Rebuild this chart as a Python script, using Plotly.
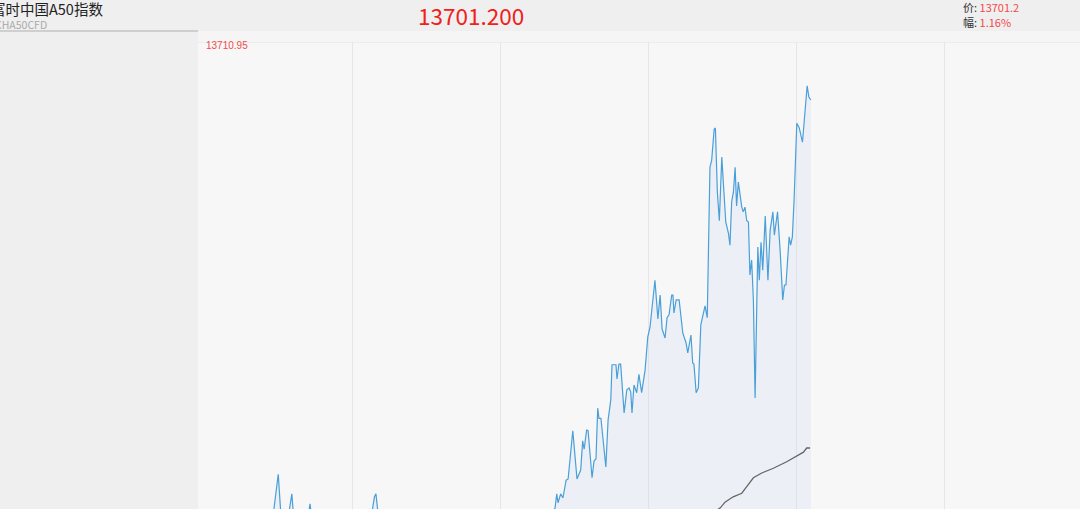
import plotly.graph_objects as go

# ---- data (minutes since session start, price) ----
price_minutes = [0.0, 10.5, 20.7, 28.0, 30.1, 31.2, 34.1, 35.6, 36.5, 38.9, 42.2, 43.0, 43.8, 49.1, 57.2, 63.2,
                 68.1, 69.1, 69.7, 70.5, 75.4, 87.6, 99.7, 111.9, 124.1, 134.2, 139.5, 142.3,
                 143.0, 143.5, 144.6, 145.5, 146.8, 147.6, 149.5, 151.2, 152.7, 153.5, 154.1, 155.1, 155.7,
                 157.3, 158.1, 158.9, 159.6, 160.1, 160.9, 162.9, 163.8, 164.9, 165.4, 167.0, 167.4, 168.2,
                 168.9, 170.3, 171.4, 172.3, 173.0, 173.5, 174.3, 175.4, 176.3, 177.4, 178.8, 179.9, 180.8,
                 182.8, 184.0, 184.9, 185.7, 186.9, 187.7, 188.5, 189.6, 190.1, 190.5, 191.4, 192.6, 194.1,
                 195.4, 196.1, 197.4, 198.1, 198.6, 199.5, 200.4, 201.4, 203.1, 204.0, 205.1, 205.8, 206.8,
                 207.3, 208.1, 208.9, 209.9, 211.5, 212.6, 213.2, 213.9, 214.6, 215.3, 215.9, 216.6, 218.0,
                 218.6, 219.3, 220.0, 220.7, 221.3, 222.0, 222.7, 223.4, 224.5, 225.1, 225.8, 226.5, 227.5,
                 228.6, 229.5, 230.6, 231.2, 232.5, 233.6, 234.6, 235.3, 235.9, 237.2, 237.8, 238.5, 239.2,
                 240.3, 241.3, 242.6, 244.1, 244.5, 245.2, 246.0]
price_values = [13628.1, 13629.3, 13627.2, 13631.3, 13638.3, 13631.3, 13630.9, 13635.0, 13630.3, 13628.9,
                13631.3, 13633.3, 13630.3, 13628.1, 13626.4, 13627.6, 13631.9, 13634.5, 13635.0, 13631.9,
                13628.9, 13626.4, 13625.2, 13625.9, 13626.9, 13628.9, 13630.9, 13632.6,
                13635.0, 13633.5, 13635.0, 13634.3, 13637.3, 13637.5, 13645.6, 13637.5, 13639.0, 13643.9,
                13642.5, 13645.7, 13645.6, 13637.7, 13640.5, 13640.9, 13649.4, 13647.7, 13647.7, 13639.5,
                13647.4, 13650.8, 13656.7, 13656.7, 13654.3, 13656.8, 13656.8, 13648.6, 13652.5, 13652.8,
                13652.1, 13648.6, 13653.3, 13652.0, 13655.1, 13652.0, 13655.8, 13661.4, 13663.0, 13670.9,
                13664.4, 13668.4, 13662.7, 13661.2, 13664.6, 13665.1, 13668.4, 13668.4, 13665.4, 13667.6,
                13667.6, 13662.0, 13660.4, 13658.7, 13661.7, 13657.0, 13656.8, 13652.0, 13652.8, 13663.4,
                13666.6, 13664.6, 13689.9, 13691.1, 13696.3, 13696.5, 13685.7, 13680.9, 13691.6, 13680.7,
                13678.8, 13676.8, 13684.1, 13685.7, 13689.9, 13683.4, 13687.4, 13683.2, 13682.4, 13683.2,
                13680.9, 13680.7, 13671.8, 13674.3, 13667.6, 13651.1, 13676.5, 13670.9, 13677.3, 13672.6,
                13681.7, 13670.9, 13679.3, 13682.4, 13678.5, 13682.4, 13675.5, 13667.6, 13670.1, 13670.1,
                13678.2, 13676.8, 13678.2, 13684.4, 13697.3, 13696.5, 13694.1, 13702.0, 13703.6, 13701.7,
                13701.2]

avg_minutes = [0.0, 79.5, 160.5, 201.1, 209.2, 211.2, 214.5, 218.0, 220.0, 222.7, 226.1, 230.8, 236.2,
               239.6, 243.0, 244.3, 245.7]
avg_values = [13613.8, 13623.9, 13627.2, 13630.6, 13632.6, 13633.6, 13634.5, 13635.1, 13636.2, 13637.7,
              13638.5, 13639.3, 13640.4, 13641.2, 13642.0, 13642.7, 13642.7]

grid_minutes = [60, 120, 180, 240, 300]
y_max_label = "13710.95"
y_top = 13710.95
y_bottom = 13632.45
x_range = [-2.43, 355.1]

title_text = "富时中国A50指数"
code_text = "CHA50CFD"
last_price_text = "13701.200"
price_label = "13701.2"
change_label = "1.16%"

W, H = 1080, 509
L, T = 198, 42
PW, PH = W - L, H - T


def px(xp):
    return (xp - L) / PW


def py(yp):
    return (H - yp) / PH


fig = go.Figure()
fig.add_trace(go.Scatter(
    x=price_minutes, y=price_values, mode="lines",
    line=dict(color="#4a9fd8", width=1.2),
    fill="tozeroy", fillcolor="rgba(200,220,245,0.22)",
    hoverinfo="skip", showlegend=False))
fig.add_trace(go.Scatter(
    x=avg_minutes, y=avg_values, mode="lines",
    line=dict(color="#666666", width=1.3),
    hoverinfo="skip", showlegend=False))

shapes = [
    dict(type="rect", xref="paper", yref="paper", x0=px(L), x1=px(W), y0=py(T), y1=py(31),
         fillcolor="#f5f5f5", line=dict(width=0), layer="below"),
    dict(type="line", xref="paper", yref="paper", x0=px(0), x1=px(L), y0=py(31), y1=py(31),
         line=dict(color="#c4c4c4", width=1.5)),
    dict(type="line", xref="paper", yref="paper", x0=px(L), x1=px(W), y0=py(42.5), y1=py(42.5),
         line=dict(color="#ececec", width=1)),
]

annotations = [
    dict(text=title_text, x=px(-11), y=py(9), xref="paper", yref="paper", xanchor="left", yanchor="middle",
         showarrow=False, font=dict(family="Noto Sans CJK SC", size=14.5, color="#222222")),
    dict(text=code_text, x=px(-7), y=py(24.5), xref="paper", yref="paper", xanchor="left", yanchor="middle",
         showarrow=False, font=dict(family="Noto Sans CJK SC", size=10.5, color="#aaaaaa")),
    dict(text=last_price_text, x=px(471), y=py(15), xref="paper", yref="paper", xanchor="center",
         yanchor="middle", showarrow=False, font=dict(family="Noto Sans CJK SC", size=22.5, color="#f0201a")),
    dict(text="价: <span style='color:#f5474a'>" + price_label + "</span>", x=px(961), y=py(6.5),
         xref="paper", yref="paper", xanchor="left", yanchor="middle", showarrow=False,
         font=dict(family="Noto Sans CJK SC", size=11, color="#333333")),
    dict(text="幅: <span style='color:#f5474a'>" + change_label + "</span>", x=px(961), y=py(22),
         xref="paper", yref="paper", xanchor="left", yanchor="middle", showarrow=False,
         font=dict(family="Noto Sans CJK SC", size=11, color="#333333")),
    dict(text=y_max_label, x=px(204), y=py(46), xref="paper", yref="paper", xanchor="left", yanchor="middle",
         showarrow=False, font=dict(family="Liberation Sans", size=10, color="#f24b4b")),
]

fig.update_layout(
    width=W, height=H,
    margin=dict(l=L, r=0, t=T, b=0, pad=0),
    paper_bgcolor="#efefef", plot_bgcolor="#f7f7f7",
    shapes=shapes, annotations=annotations,
    xaxis=dict(range=x_range, tickvals=grid_minutes, showticklabels=False, ticks="",
               showgrid=True, gridcolor="#e6e6e6", gridwidth=1, zeroline=False, showline=False,
               fixedrange=True),
    yaxis=dict(range=[y_bottom, y_top], showticklabels=False, ticks="", showgrid=False,
               zeroline=False, showline=False, fixedrange=True),
    hovermode=False,
)

fig.write_html("out.html", config={"displayModeBar": False},
               post_script="document.body.style.margin='0px';document.body.style.overflow='hidden';")
